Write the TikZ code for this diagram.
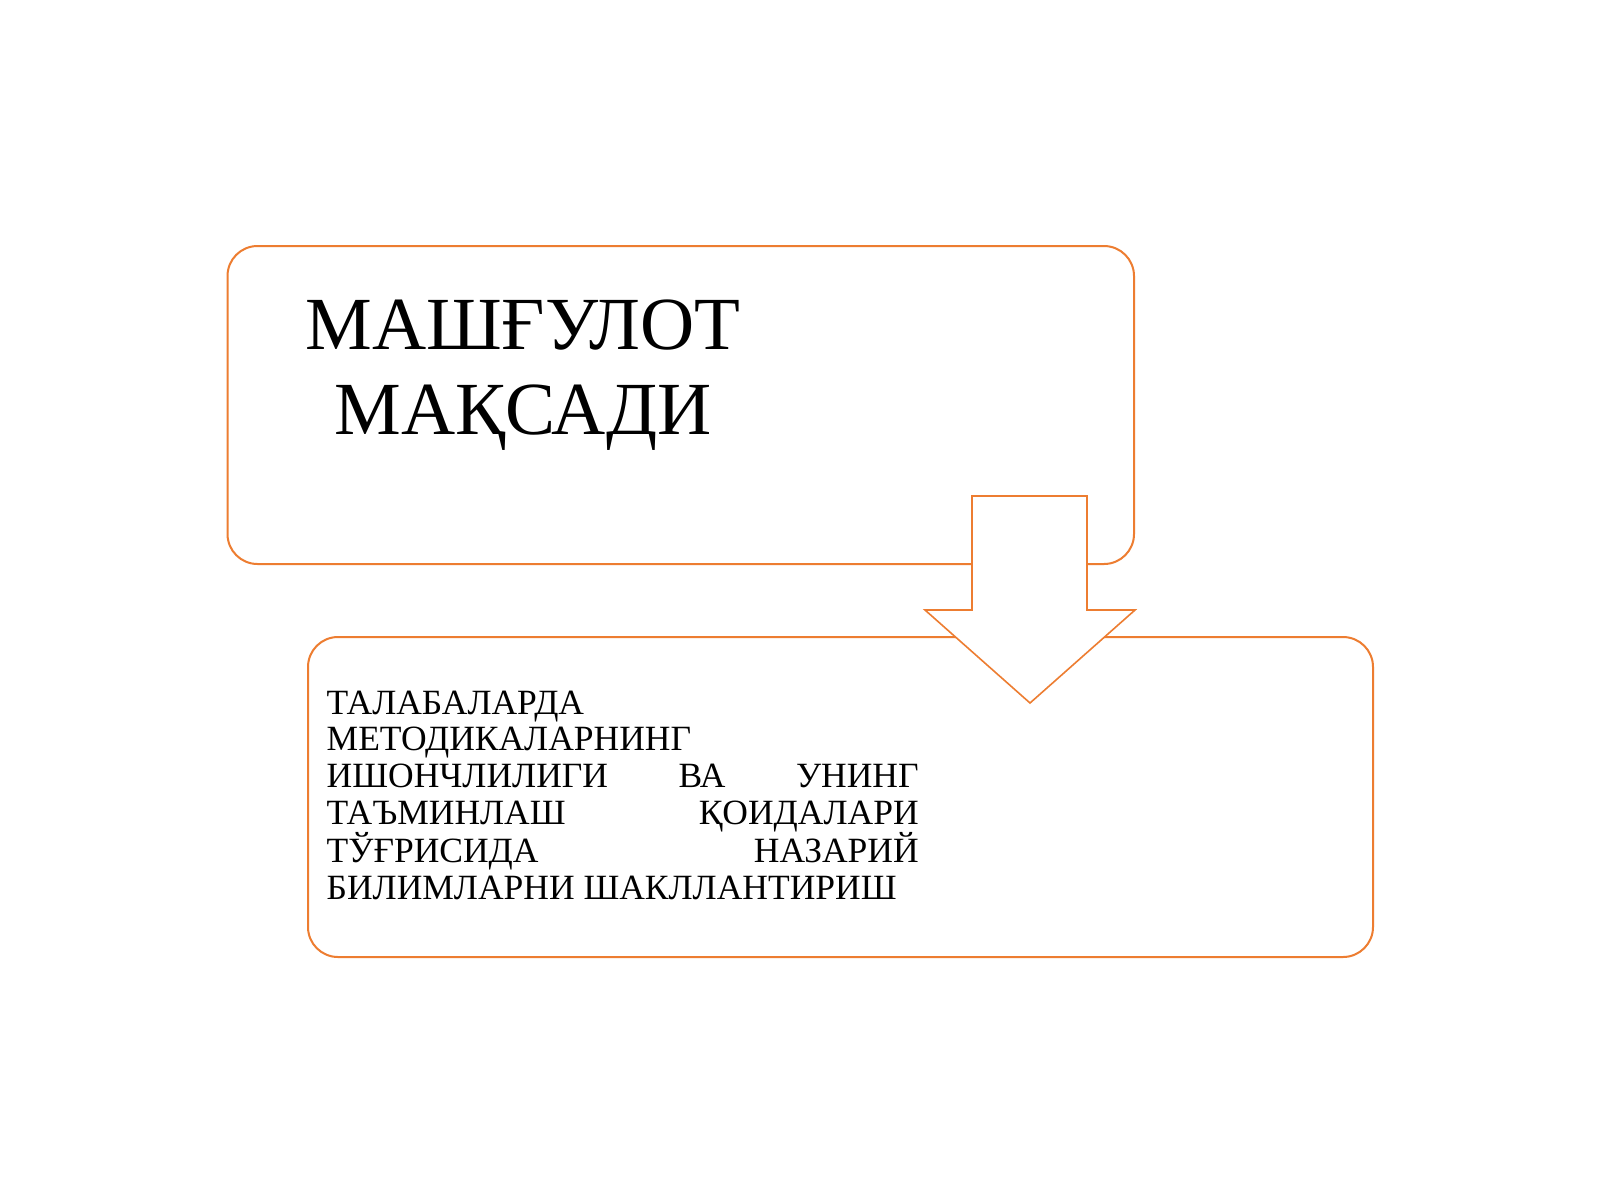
\documentclass[tikz,border=0pt]{standalone}
\usepackage{fontspec}
\setmainfont{Liberation Serif}
\definecolor{boxorange}{HTML}{ED7D31}
\begin{document}
\begin{tikzpicture}[x=1pt,y=-1pt,
  box/.style={draw=boxorange, line width=2pt, rounded corners=30pt, fill=white, inner sep=0pt, anchor=north west},
  blockarrow/.style={draw=boxorange, line width=1.6pt, fill=white, line join=miter},
  titletext/.style={inner sep=0pt, align=center, font=\fontsize{75}{85}\selectfont},
  bodytext/.style={inner sep=0pt, align=left, font=\fontsize{35.5}{36.7}\selectfont}]
\path[fill=white,use as bounding box] (0,0) rectangle (1600,1200);
\node[box, minimum width=906.5pt, minimum height=318pt] (goalbox) at (226.5,245) {};
\node[box, minimum width=1065pt, minimum height=320pt] (contentbox) at (307,636) {};
\node[titletext, anchor=north] (title) at (523,300) {МАШҒУЛОТ\\МАҚСАДИ};
\node[bodytext, anchor=north west] (body) at (326.5,690.5) {%
ТАЛАБАЛАРДА\\
МЕТОДИКАЛАРНИНГ\\
\makebox[592pt][l]{ИШОНЧЛИЛИГИ\hfill ВА\hfill УНИНГ}\\
\makebox[592pt][l]{ТАЪМИНЛАШ\hfill ҚОИДАЛАРИ}\\
\makebox[592pt][l]{ТЎҒРИСИДА\hfill НАЗАРИЙ}\\
БИЛИМЛАРНИ ШАКЛЛАНТИРИШ};
\draw[blockarrow] (972,496) -- (1087,496) -- (1087,610) -- (1135,610) -- (1030,703) -- (925,610) -- (972,610) -- cycle;
\end{tikzpicture}
\end{document}
